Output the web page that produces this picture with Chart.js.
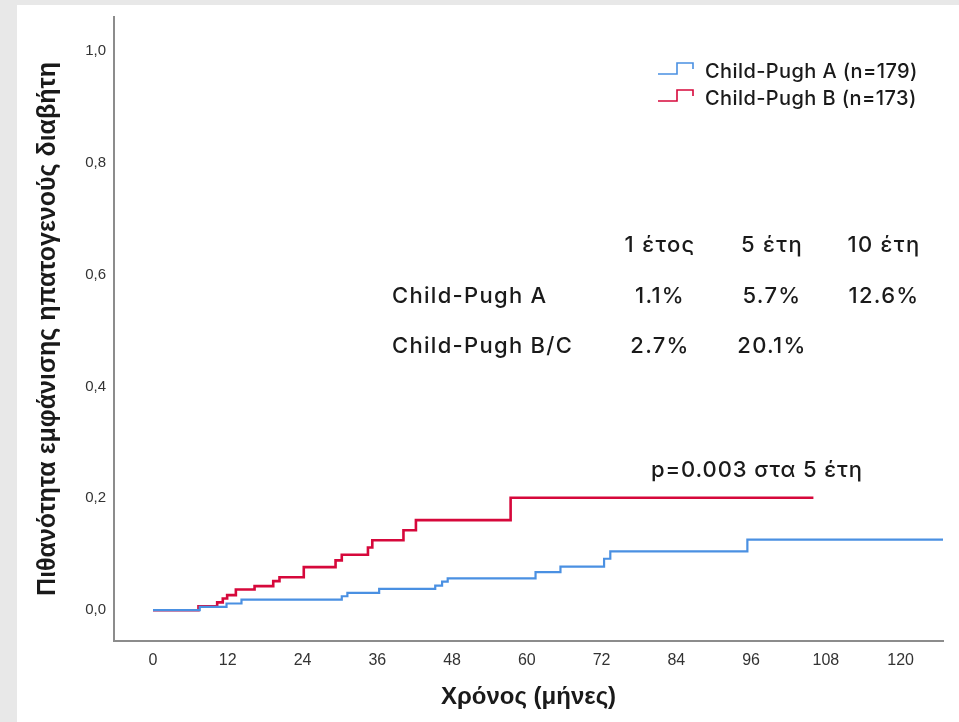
<!DOCTYPE html>
<html>
<head>
<meta charset="utf-8">
<script src="https://cdn.jsdelivr.net/npm/chart.js@4.4.1/dist/chart.umd.min.js"></script>
<style>
  html, body { margin: 0; padding: 0; background: #e8e8e8; }
  #panel { position: absolute; left: 17px; top: 5px; right: 0; bottom: 0; background: #ffffff; }
  #chart { position: absolute; left: 0; top: 0; }
</style>
</head>
<body>
<div id="panel"></div>
<canvas id="chart" width="959" height="722"></canvas>
<script>
// Cumulative incidence of hepatogenous diabetes (Kaplan-Meier style steps)
const monthsA = [0, 7.5, 11.8, 14.2, 30.3, 31.2, 36.3, 45.3, 46.4, 47.3, 61.4, 65.4, 72.4, 73.4, 95.4, 127.0];
const riskA   = [0, 0.006, 0.012, 0.019, 0.025, 0.031, 0.038, 0.044, 0.051, 0.057, 0.068, 0.078, 0.092, 0.105, 0.126, 0.126];

const monthsB = [0, 7.3, 10.3, 11.2, 11.9, 13.3, 16.3, 19.3, 20.3, 24.2, 29.3, 30.3, 34.5, 35.2, 40.2, 42.2, 57.4, 106.0];
const riskB   = [0, 0.007, 0.014, 0.021, 0.027, 0.037, 0.043, 0.052, 0.059, 0.077, 0.089, 0.099, 0.112, 0.125, 0.143, 0.161, 0.201, 0.201];

const seriesLabels = ['Child-Pugh A (n=179)', 'Child-Pugh B (n=173)'];
const seriesColors = ['#4a90e2', '#d6083b'];

const xTicks = [0, 12, 24, 36, 48, 60, 72, 84, 96, 108, 120];
const yTicks = [0, 0.2, 0.4, 0.6, 0.8, 1.0];

// Summary table
const tableHeader = ['1 έτος', '5 έτη', '10 έτη'];
const tableRows = ['Child-Pugh A', 'Child-Pugh B/C'];
const tableValues = [['1.1%', '5.7%', '12.6%'], ['2.7%', '20.1%', '']];
const pValueText = 'p=0.003 στα 5 έτη';

const textFont = '"Inter", "Roboto", sans-serif';
const axisFont = '"Liberation Sans", Arial, sans-serif';

function spaced(ctx, px) {
  if ('letterSpacing' in ctx) ctx.letterSpacing = px + 'px';
}

const overlayPlugin = {
  id: 'overlay',
  afterDraw(chart) {
    const ctx = chart.ctx;
    ctx.save();
    ctx.fillStyle = '#1a1a1a';
    ctx.textBaseline = 'alphabetic';

    // legend with step-shaped keys
    const legendX = 658, legendY = 78, rowGap = 27;
    seriesLabels.forEach((lab, i) => {
      const by = legendY + i * rowGap;
      ctx.strokeStyle = seriesColors[i];
      ctx.lineWidth = 1.6;
      ctx.beginPath();
      ctx.moveTo(legendX, by - 4);
      ctx.lineTo(legendX + 19, by - 4);
      ctx.lineTo(legendX + 19, by - 15);
      ctx.lineTo(legendX + 35, by - 15);
      ctx.lineTo(legendX + 35, by - 9);
      ctx.stroke();
      ctx.font = '500 20px ' + textFont;
      spaced(ctx, 0.4);
      ctx.textAlign = 'left';
      ctx.fillText(lab, 705, by);
    });

    // table of cumulative incidence
    const colX = [660, 772, 884];
    const rowY = [303, 353];
    ctx.font = '500 22px ' + textFont;
    spaced(ctx, 1.3);
    ctx.textAlign = 'center';
    tableHeader.forEach((h, j) => ctx.fillText(h, colX[j], 252));
    tableRows.forEach((r, i) => {
      ctx.textAlign = 'left';
      ctx.fillText(r, 392, rowY[i]);
      ctx.textAlign = 'center';
      tableValues[i].forEach((v, j) => { if (v) ctx.fillText(v, colX[j], rowY[i]); });
    });

    // p-value annotation
    ctx.textAlign = 'left';
    spaced(ctx, 0.9);
    ctx.fillText(pValueText, 651, 477);
    spaced(ctx, 0);
    ctx.restore();
  }
};

const mk = (months, risk) => months.map((m, i) => ({ x: m, y: risk[i] }));

new Chart(document.getElementById('chart').getContext('2d'), {
  type: 'line',
  data: {
    datasets: [
      { label: seriesLabels[0], data: mk(monthsA, riskA), borderColor: seriesColors[0], borderWidth: 2.2, stepped: true, pointRadius: 0, fill: false },
      { label: seriesLabels[1], data: mk(monthsB, riskB), borderColor: seriesColors[1], borderWidth: 2.6, stepped: true, pointRadius: 0, fill: false }
    ]
  },
  options: {
    responsive: false,
    animation: false,
    devicePixelRatio: 1,
    layout: { padding: { left: 17, top: 13, right: 16, bottom: 0 } },
    plugins: { legend: { display: false }, tooltip: { enabled: false } },
    scales: {
      x: {
        type: 'linear',
        min: -6.26,
        max: 126.8,
        afterBuildTicks: s => { s.ticks = xTicks.map(v => ({ value: v })); },
        afterFit: s => { s.height = 81; },
        grid: { display: false, drawTicks: false },
        border: { display: true, color: '#8c8c8c', width: 2 },
        ticks: { autoSkip: false, maxRotation: 0, padding: 10, color: '#333333', font: { family: axisFont, size: 16 } },
        title: { display: true, text: 'Χρόνος (μήνες)', color: '#1a1a1a', font: { family: axisFont, size: 24, weight: 'bold' }, padding: { top: 0, bottom: 10 } }
      },
      y: {
        min: -0.055,
        max: 1.06,
        afterBuildTicks: s => { s.ticks = yTicks.map(v => ({ value: v })); },
        afterFit: s => { s.width = 97; },
        grid: { display: false, drawTicks: false },
        border: { display: true, color: '#8c8c8c', width: 2 },
        ticks: { padding: 8, color: '#333333', font: { family: axisFont, size: 15 }, callback: v => v.toFixed(1).replace('.', ',') },
        title: { display: true, text: 'Πιθανότητα εμφάνισης ηπατογενούς διαβήτη', color: '#1a1a1a', font: { family: axisFont, size: 25, weight: 'bold' }, padding: { top: 16, bottom: 0 } }
      }
    }
  },
  plugins: [overlayPlugin]
});
</script>
</body>
</html>
